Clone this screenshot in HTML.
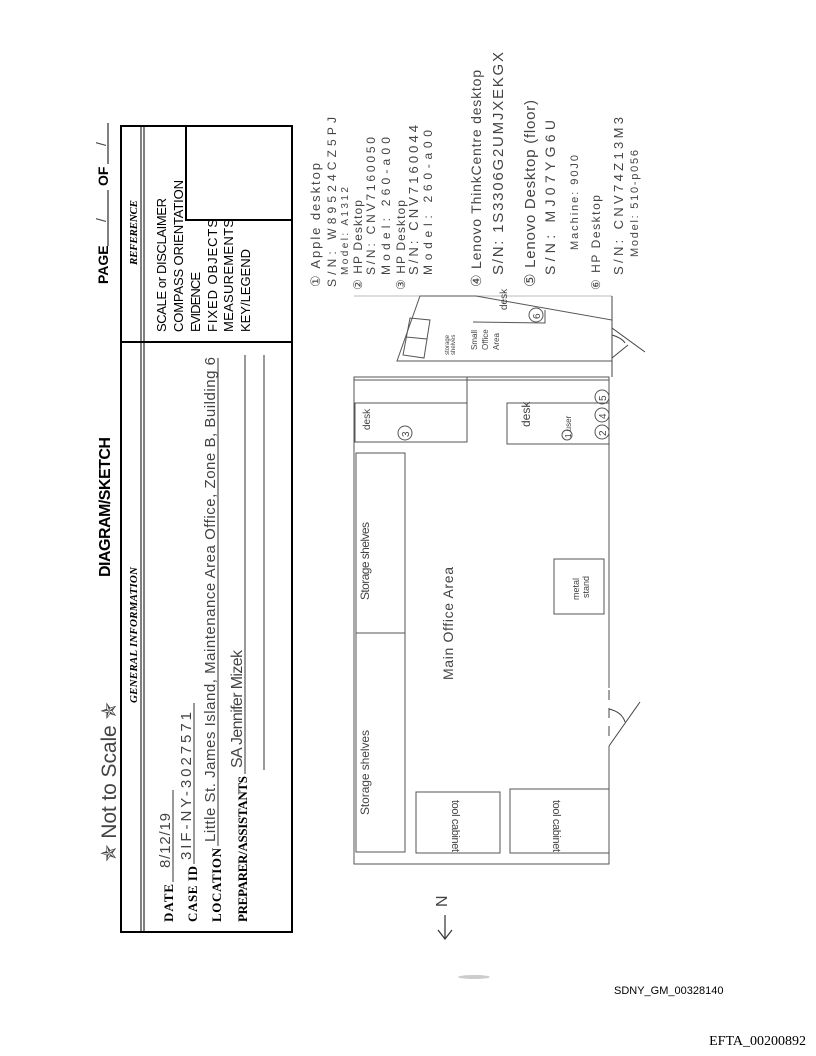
<!DOCTYPE html>
<html><head><meta charset="utf-8"><style>
html,body{margin:0;padding:0;background:#fff}
svg{display:block}
.hw{font-family:"Liberation Sans",sans-serif;fill:#444}
.pl{stroke:#555;stroke-width:1;fill:none}
</style></head><body>
<svg width="816" height="1056" viewBox="0 0 816 1056" xmlns="http://www.w3.org/2000/svg">
<!-- header -->
<text transform="translate(108,284) rotate(-90)" font-family="Liberation Sans" font-weight="bold" font-size="14">PAGE</text>
<line x1="108" y1="190" x2="108" y2="246" stroke="#000" stroke-width="1"/>
<text class="hw" transform="translate(106,222) rotate(-90)" font-size="14">/</text>
<text transform="translate(108,186) rotate(-90)" font-family="Liberation Sans" font-weight="bold" font-size="14">OF</text>
<line x1="108" y1="123" x2="108" y2="164" stroke="#000" stroke-width="1"/>
<text class="hw" transform="translate(106,146) rotate(-90)" font-size="14">/</text>
<text transform="translate(110,577) rotate(-90)" font-family="Liberation Sans" font-weight="bold" font-size="16" textLength="140">DIAGRAM/SKETCH</text>
<text class="hw" transform="translate(116,862) rotate(-90)" font-size="21" textLength="160">✯ Not to Scale ✯</text>

<!-- form box -->
<rect x="121" y="126" width="171" height="806" fill="none" stroke="#000" stroke-width="2"/>
<line x1="141" y1="126" x2="141" y2="932" stroke="#000" stroke-width="1"/>
<line x1="144" y1="126" x2="144" y2="932" stroke="#000" stroke-width="1"/>
<line x1="121" y1="342" x2="292" y2="342" stroke="#000" stroke-width="2"/>
<polyline points="186,126 186,220 292,220" fill="none" stroke="#000" stroke-width="2"/>
<text transform="translate(137,265) rotate(-90)" font-family="Liberation Serif" font-style="italic" font-weight="bold" font-size="11" textLength="65">REFERENCE</text>
<g font-family="Liberation Sans" font-size="13">
<text transform="translate(166,332) rotate(-90)" textLength="134">SCALE or DISCLAIMER</text>
<text transform="translate(183,332) rotate(-90)" textLength="152">COMPASS ORIENTATION</text>
<text transform="translate(200,332) rotate(-90)" textLength="60">EVIDENCE</text>
<text transform="translate(217,332) rotate(-90)" textLength="113">FIXED OBJECTS</text>
<text transform="translate(233,332) rotate(-90)" textLength="113">MEASUREMENTS</text>
<text transform="translate(250,332) rotate(-90)" textLength="83">KEY/LEGEND</text>
</g>
<text transform="translate(137,703) rotate(-90)" font-family="Liberation Serif" font-style="italic" font-weight="bold" font-size="11" textLength="136">GENERAL INFORMATION</text>
<g font-family="Liberation Serif" font-weight="bold" font-size="13">
<text transform="translate(173,922) rotate(-90)" textLength="38">DATE</text>
<text transform="translate(197,922) rotate(-90)" textLength="56">CASE ID</text>
<text transform="translate(221,922) rotate(-90)" textLength="74">LOCATION</text>
<text transform="translate(247,922) rotate(-90)" textLength="146">PREPARER/ASSISTANTS</text>
</g>
<g stroke="#333" stroke-width="1">
<line x1="173" y1="790" x2="173" y2="882"/>
<line x1="194" y1="703" x2="194" y2="864"/>
<line x1="218" y1="358" x2="218" y2="846"/>
<line x1="245" y1="355" x2="245" y2="774"/>
<line x1="264" y1="355" x2="264" y2="770"/>
</g>
<g class="hw">
<text transform="translate(170,868) rotate(-90)" font-size="15" textLength="55">8/12/19</text>
<text transform="translate(191,860) rotate(-90)" font-size="15" textLength="148">3IF-NY-3027571</text>
<text transform="translate(215,842) rotate(-90)" font-size="15" textLength="485">Little St. James Island, Maintenance Area Office, Zone B, Building 6</text>
<text transform="translate(242,768) rotate(-90)" font-size="16" textLength="118">SA Jennifer Mizek</text>
</g>

<!-- floor plan -->
<g class="pl">
<rect x="354" y="377" width="255" height="487"/>
<line x1="354" y1="380" x2="609" y2="380"/>
<line x1="354" y1="296" x2="612" y2="296" stroke="#bbb"/>
<polygon points="397,361 420,296 476,296 612,320 612,361"/>
<rect x="355" y="403" width="112" height="39"/>
<line x1="467" y1="377" x2="467" y2="403"/>
<rect x="507" y="403" width="102" height="41"/>
<rect x="356" y="453" width="49" height="180"/>
<rect x="356" y="633" width="49" height="219"/>
<rect x="554" y="559" width="50" height="55"/>
<rect x="416" y="792" width="84" height="61"/>
<rect x="510" y="789" width="99" height="64"/>
<polyline points="473,322 545,323 545,310"/>
<polygon points="403,355 410,318 430,320 424,358"/>
<line x1="406" y1="337" x2="427" y2="339"/>
<circle cx="405" cy="433" r="7"/>
<circle cx="567" cy="435" r="5"/>
<circle cx="602" cy="432" r="7"/>
<circle cx="602" cy="415" r="7"/>
<circle cx="602" cy="397" r="7"/>
<circle cx="536" cy="315" r="7"/>
</g>
<rect x="606" y="688" width="6" height="58" fill="#fff"/>
<g stroke="#444" stroke-width="1" fill="none">
<line x1="609" y1="690" x2="609" y2="700"/><line x1="609" y1="708" x2="609" y2="718"/><line x1="609" y1="726" x2="609" y2="736"/>
<line x1="609" y1="746" x2="640" y2="702"/>
<path d="M609 709 Q622 712 625 722"/>
<line x1="612" y1="328" x2="645" y2="352"/><path d="M612 335 Q622 338 625 343"/>
<line x1="612" y1="358" x2="628" y2="345"/>
<line x1="612" y1="377" x2="612" y2="296"/>
</g>
<g class="hw" font-size="10">
<text transform="translate(369,600) rotate(-90)" font-size="12" textLength="78">Storage shelves</text>
<text transform="translate(369,815) rotate(-90)" font-size="12" textLength="85">Storage shelves</text>
<text transform="translate(453,680) rotate(-90)" font-size="14" textLength="113">Main Office Area</text>
<text transform="translate(452,800) rotate(90)" font-size="11" textLength="52">tool cabinet</text>
<text transform="translate(553,800) rotate(90)" font-size="11" textLength="52">tool cabinet</text>
<text transform="translate(579,600) rotate(-90)" font-size="9">metal</text>
<text transform="translate(589,598) rotate(-90)" font-size="9">stand</text>
<text transform="translate(370,430) rotate(-90)" font-size="10">desk</text>
<text transform="translate(409,437) rotate(-90)">3</text>
<text transform="translate(530,427) rotate(-90)" font-size="12">desk</text>
<text transform="translate(571,438) rotate(-90)" font-size="8">1 user</text>
<text transform="translate(606,436) rotate(-90)">2</text>
<text transform="translate(606,419) rotate(-90)">4</text>
<text transform="translate(606,401) rotate(-90)">5</text>
<text transform="translate(540,319) rotate(-90)">6</text>
<text transform="translate(507,310) rotate(-90)" font-size="10">desk</text>
<text transform="translate(449,355) rotate(-90)" font-size="6">storage</text>
<text transform="translate(455,355) rotate(-90)" font-size="6">shelves</text>
<text transform="translate(477,350) rotate(-90)" font-size="8">Small</text>
<text transform="translate(488,350) rotate(-90)" font-size="8">Office</text>
<text transform="translate(499,350) rotate(-90)" font-size="8">Area</text>
</g>

<!-- legend -->
<g class="hw">
<text transform="translate(320,287) rotate(-90)" font-size="13" textLength="124">① Apple desktop</text>
<text transform="translate(336,287) rotate(-90)" font-size="12" textLength="170">S/N: W89524CZ5PJ</text>
<text transform="translate(348,275) rotate(-90)" font-size="10" textLength="88">Model: A1312</text>
<text transform="translate(362,290) rotate(-90)" font-size="12" textLength="90">② HP Desktop</text>
<text transform="translate(375,275) rotate(-90)" font-size="12" textLength="138">S/N: CNV7160050</text>
<text transform="translate(390,275) rotate(-90)" font-size="12" textLength="138">Model: 260-a00</text>
<text transform="translate(405,290) rotate(-90)" font-size="12" textLength="90">③ HP Desktop</text>
<text transform="translate(418,275) rotate(-90)" font-size="13" textLength="150">S/N: CNV7160044</text>
<text transform="translate(432,275) rotate(-90)" font-size="12" textLength="145">Model: 260-a00</text>
<text transform="translate(481,287) rotate(-90)" font-size="14" textLength="217">④ Lenovo ThinkCentre desktop</text>
<text transform="translate(503,275) rotate(-90)" font-size="15" textLength="223">S/N: 1S3306G2UMJXEKGX</text>
<text transform="translate(535,287) rotate(-90)" font-size="15" textLength="187">⑤ Lenovo Desktop (floor)</text>
<text transform="translate(555,275) rotate(-90)" font-size="14" textLength="155">S/N: MJ07YG6U</text>
<text transform="translate(578,250) rotate(-90)" font-size="11" textLength="95">Machine: 90J0</text>
<text transform="translate(600,290) rotate(-90)" font-size="12" textLength="95">⑥ HP Desktop</text>
<text transform="translate(623,275) rotate(-90)" font-size="13" textLength="158">S/N: CNV74Z13M3</text>
<text transform="translate(638,257) rotate(-90)" font-size="11" textLength="107">Model: 510-p056</text>
</g>

<!-- north arrow -->
<g stroke="#333" stroke-width="1.2" fill="none">
<line x1="445" y1="938" x2="445" y2="915"/>
<polyline points="438,930 445,939 452,930"/>
</g>
<text class="hw" transform="translate(447,907) rotate(-90)" font-size="16">N</text>
<ellipse cx="474" cy="977" rx="16" ry="2" fill="#ccc"/>

<text x="614" y="994" font-family="Liberation Sans" font-size="11">SDNY_GM_00328140</text>
<text x="806" y="1045" text-anchor="end" font-family="Liberation Serif" font-size="14">EFTA_00200892</text>
</svg>
</body></html>
